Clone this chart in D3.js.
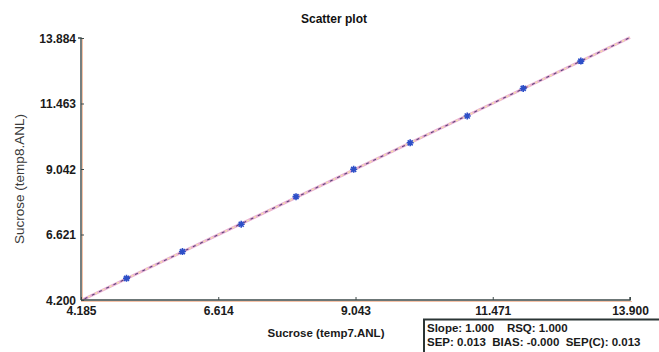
<!DOCTYPE html>
<html>
<head>
<meta charset="utf-8">
<script src="https://cdn.jsdelivr.net/npm/d3@7"></script>
<style>
	body { margin: 0; background: #fff; }
	text { font-family: "Liberation Sans", Arial, sans-serif; }
</style>
</head>
<body>
<svg id="svg-port" width="659" height="352"></svg>
<script>
var refX = [4.99, 5.98, 7.02, 7.99, 9.01, 10.01, 11.02, 12.01, 13.03];
var predY = [5.00, 5.99, 7.00, 8.02, 9.03, 10.01, 11.00, 12.02, 13.03];
var xTicks = [4.185, 6.614, 9.043, 11.471, 13.900];
var yTicks = [4.200, 6.621, 9.042, 11.463, 13.884];
var statLines = ["Slope: 1.000    RSQ: 1.000", "SEP: 0.013  BIAS: -0.000  SEP(C): 0.013"];

function DrawScatter() {
	var svg = d3.select('#svg-port');
	var pLeft = 81, pRight = 630, pTop = 38, pBottom = 300;

	var x = d3.scaleLinear().domain([xTicks[0], xTicks[xTicks.length - 1]]).range([pLeft, pRight]);
	var y = d3.scaleLinear().domain([yTicks[0], yTicks[yTicks.length - 1]]).range([pBottom, pTop]);

	// title
	svg.append('text')
		.attr('x', 334).attr('y', 23)
		.attr('text-anchor', 'middle')
		.attr('font-size', '12px').attr('font-weight', 'bold')
		.attr('fill', '#111')
		.text('Scatter plot');

	// 1:1 line drawn a few times, pink underneath and dashed ones on top
	var fit = [xTicks[0], xTicks[xTicks.length - 1]];
	var lineG = svg.append('g');
	function seg() {
		return lineG.append('line')
			.attr('x1', x(fit[0])).attr('y1', y(fit[0]))
			.attr('x2', x(fit[1])).attr('y2', y(fit[1]));
	}
	seg().attr('stroke', '#eab0d4').attr('stroke-width', 2.8);
	seg().attr('stroke', '#f3e7a6').attr('stroke-width', 1.4)
		.attr('stroke-dasharray', '2,6');
	seg().attr('stroke', '#5a4478').attr('stroke-width', 1.1)
		.attr('stroke-dasharray', '3,5')
		.attr('stroke-dashoffset', 4);

	// points
	var pts = svg.append('g').selectAll('g')
		.data(refX.map((v, i) => ({x: v, y: predY[i]})))
		.enter().append('g')
		.attr('transform', d => 'translate(' + x(d.x) + ',' + y(d.y) + ')');
	pts.append('path')
		.attr('d', 'M-3.5,0H3.5M0,-3.5V3.5M-2.5,-2.5L2.5,2.5M-2.5,2.5L2.5,-2.5')
		.attr('stroke', '#2d4fc8').attr('stroke-width', 1.6);

	// axes
	var xAxis = d3.axisBottom(x).tickValues(xTicks).tickSize(-3).tickPadding(6)
		.tickFormat(d3.format('.3f'));
	var yAxis = d3.axisLeft(y).tickValues(yTicks).tickSize(-3).tickPadding(5)
		.tickFormat(d3.format('.3f'));

	// peach shadow along axes
	svg.append('line').attr('x1', pLeft).attr('x2', pRight + 2).attr('y1', pBottom + 1.5).attr('y2', pBottom + 1.5)
		.attr('stroke', '#f6c3a8').attr('stroke-width', 1);
	svg.append('line').attr('x1', pLeft + 1.5).attr('x2', pLeft + 1.5).attr('y1', pTop).attr('y2', pBottom)
		.attr('stroke', '#f6c3a8').attr('stroke-width', 1);

	var gx = svg.append('g').attr('transform', 'translate(0,' + pBottom + ')').call(xAxis);
	var gy = svg.append('g').attr('transform', 'translate(' + pLeft + ',0)').call(yAxis);
	[gx, gy].forEach(function (g) {
		g.select('.domain').attr('stroke', '#3d4a4a').attr('stroke-width', 1.4);
		g.selectAll('.tick line').attr('stroke', '#3d4a4a');
		g.selectAll('.tick text')
			.attr('font-family', '"Liberation Sans", Arial, sans-serif')
			.attr('font-size', '12px').attr('font-weight', 'bold').attr('fill', '#1a1a1a');
	});
	gy.select('.domain').attr('d', 'M-3,' + pTop + 'H0V' + pBottom);
	gx.select('.domain').attr('d', 'M' + pLeft + ',0H' + pRight + 'V-3');
	gy.selectAll('.tick text').attr('dy', '0.35em').attr('x', -5);

	// axis titles
	svg.append('text')
		.attr('x', 326).attr('y', 337)
		.attr('text-anchor', 'middle')
		.attr('font-size', '11.5px').attr('font-weight', 'bold').attr('fill', '#1a1a1a')
		.text('Sucrose (temp7.ANL)');
	svg.append('text')
		.attr('transform', 'translate(24,179) rotate(-90)')
		.attr('text-anchor', 'middle')
		.attr('font-size', '13.5px').attr('fill', '#3a3a3a')
		.text('Sucrose (temp8.ANL)');

	// stats box
	svg.append('rect')
		.attr('x', 424).attr('y', 319.5)
		.attr('width', 240).attr('height', 40)
		.attr('fill', '#fff').attr('stroke', '#2b3535').attr('stroke-width', 2);
	svg.append('g').selectAll('text')
		.data(statLines)
		.enter().append('text')
		.attr('x', 427).attr('y', (d, i) => 332 + i * 14)
		.attr('xml:space', 'preserve')
		.style('white-space', 'pre')
		.attr('font-size', '11.5px').attr('font-weight', 'bold').attr('fill', '#1a1a1a')
		.text(d => d);
}

DrawScatter();
</script>
</body>
</html>
